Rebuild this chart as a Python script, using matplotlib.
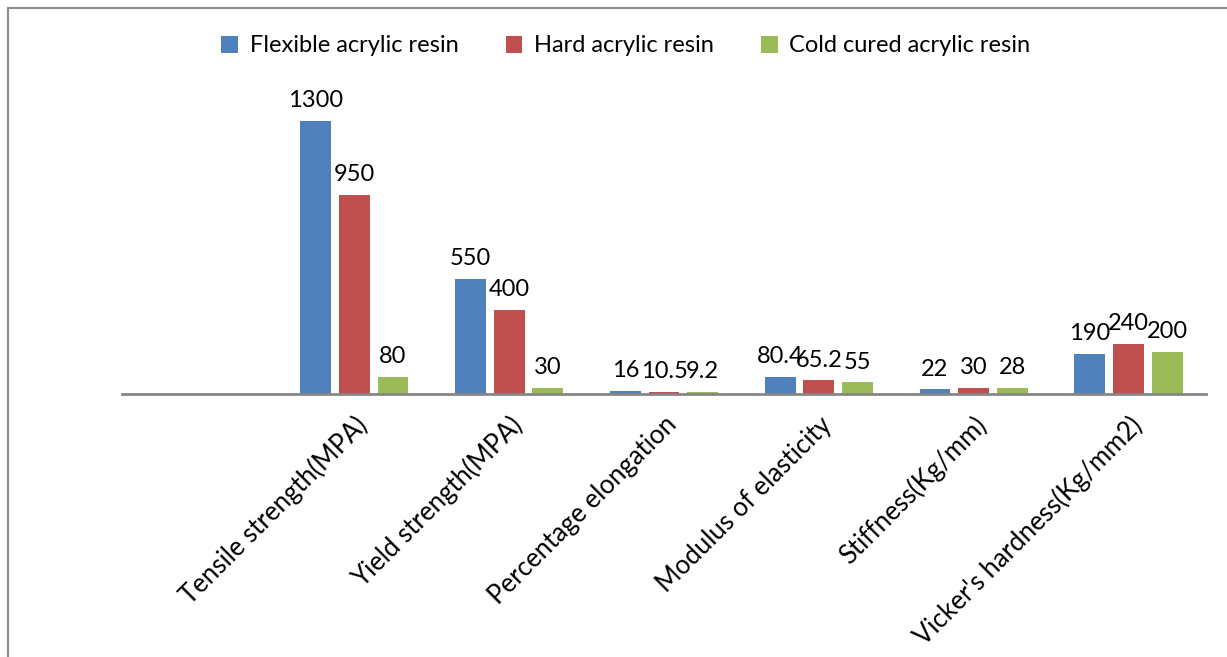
import matplotlib
matplotlib.use("Agg")
import matplotlib.pyplot as plt
from matplotlib.patches import Rectangle
import numpy as np

plt.rcParams['font.family'] = ['Lato', 'DejaVu Sans']

categories = ["", "Tensile strength(MPA)", "Yield strength(MPA)", "Percentage elongation",
              "Modulus of elasticity", "Stiffness(Kg/mm)", "Vicker's hardness(Kg/mm2)"]
series_names = ["Flexible acrylic resin", "Hard acrylic resin", "Cold cured acrylic resin"]
flexible = [None, 1300, 550, 16, 80.4, 22, 190]
hard = [None, 950, 400, 10.5, 65.2, 30, 240]
cold = [None, 80, 30, 9.2, 55, 28, 200]
colors = ["#4F81BD", "#C0504D", "#9BBB59"]

W, H = 1227, 657
fig = plt.figure(figsize=(W / 100, H / 100), dpi=100)
ax = fig.add_axes([122 / W, 1 - 394 / H, 1084 / W, 294 / H])

x = np.arange(len(categories))
width = 0.2
offsets = [-0.25, 0.0, 0.25]
fs = 17

for vals, off, col, name in zip([flexible, hard, cold], offsets, colors, series_names):
    xs = [xi + off for xi, v in zip(x, vals) if v is not None]
    vs = [v for v in vals if v is not None]
    bars = ax.bar(xs, vs, width=width, color=col, label=name, zorder=2)
    for b, v in zip(bars, vs):
        ax.annotate(f"{v:g}", (b.get_x() + b.get_width() / 2, v),
                    xytext=(0, 7), textcoords="offset points",
                    ha="center", va="bottom", fontsize=fs, color="black")

ax.set_xlim(-0.5, len(categories) - 0.5)
ax.set_ylim(0, 1400)
ax.set_xticks(x)
ax.set_xticklabels(categories, rotation=45, ha="right", rotation_mode="anchor", fontsize=18.5)
ax.tick_params(axis="x", length=0, pad=13)
ax.set_yticks([])
for s in ["top", "right", "left"]:
    ax.spines[s].set_visible(False)
ax.spines["bottom"].set_color("#868686")
ax.spines["bottom"].set_linewidth(2)
ax.spines["bottom"].set_zorder(3)

fig.legend(loc="center", bbox_to_anchor=(626 / W, 1 - 46 / H), ncol=3, frameon=False,
           fontsize=fs, handlelength=0.7, handleheight=0.7, handletextpad=0.5,
           columnspacing=2.0)

fig.patches.append(Rectangle((8 / W, -0.1), 1.2, 1.1 - 8 / H, transform=fig.transFigure,
                             fill=False, edgecolor="#8C8C8C", linewidth=1.5))

fig.savefig("out.png", dpi=100)
